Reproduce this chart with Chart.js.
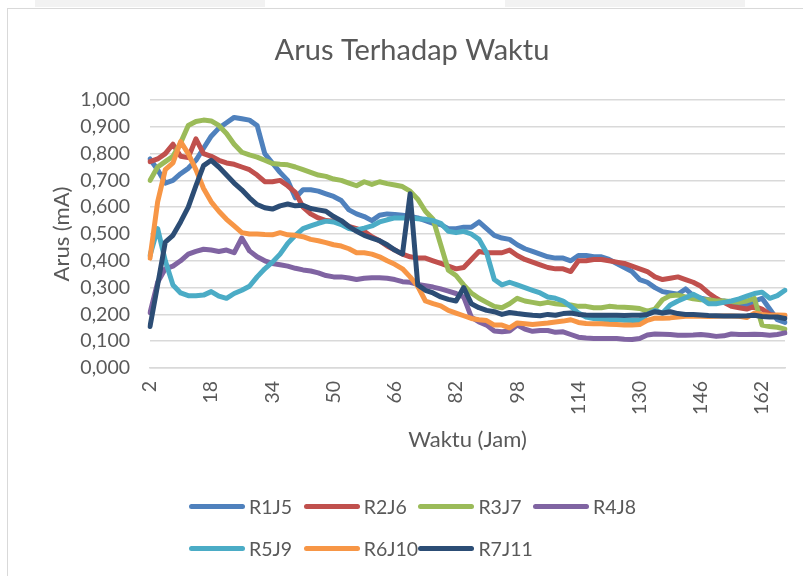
<!DOCTYPE html>
<html>
<head>
<meta charset="utf-8">
<script src="https://cdn.jsdelivr.net/npm/chart.js@4.4.0/dist/chart.umd.min.js"></script>
<style>
    html, body { margin: 0; padding: 0; background: #fff; }
    body { width: 803px; height: 576px; position: relative; overflow: hidden; font-family: Lato, sans-serif; }
    .topcell { position: absolute; top: 0; height: 7px; background: #f2f2f2; }
    #frame { position: absolute; left: 7px; top: 8px; width: 830px; height: 620px; border: 1px solid #d9d9d9; }
    #wrap { position: absolute; left: 0; top: 0; width: 803px; height: 576px; }
    .item { position: absolute; height: 26px; display: flex; align-items: center; color: #595959; font-size: 19.5px; white-space: nowrap; }
    .swatch { width: 56px; height: 5px; border-radius: 3px; margin-right: 4px; }
</style>
</head>
<body>
<div class="topcell" style="left:35px;width:230px"></div>
<div class="topcell" style="left:505px;width:240px"></div>
<div id="frame"></div>
<div id="wrap"><canvas id="chart" width="803" height="576"></canvas></div>
<div id="legend"></div>

<script>
// hours (x categories)
const hours = [2, 4, 6, 8, 10, 12, 14, 16, 18, 20, 22, 24, 26, 28, 30, 32, 34, 36, 38, 40, 42,
    44, 46, 48, 50, 52, 54, 56, 58, 60, 62, 64, 66, 68, 70, 72, 74, 76, 78, 80, 82,
    84, 86, 88, 90, 92, 94, 96, 98, 100, 102, 104, 106, 108, 110, 112, 114, 116, 118, 120, 122,
    124, 126, 128, 130, 132, 134, 136, 138, 140, 142, 144, 146, 148, 150, 152, 154, 156, 158, 160, 162, 164, 166, 168];

const xTickLabels = [2, 18, 34, 50, 66, 82, 98, 114, 130, 146, 162];

const seriesNames = ['R1J5', 'R2J6', 'R3J7', 'R4J8', 'R5J9', 'R6J10', 'R7J11'];
const seriesColors = ['#4F81BD', '#C0504D', '#9BBB59', '#8064A2', '#4BACC6', '#F79646', '#2C4D75'];

const r1j5 = [0.78, 0.74, 0.69, 0.70, 0.725, 0.745, 0.775, 0.82, 0.865, 0.895, 0.915, 0.935, 0.93, 0.925, 0.905, 0.80, 0.765, 0.73, 0.70, 0.635, 0.665,
    0.665, 0.66, 0.65, 0.64, 0.625, 0.59, 0.575, 0.565, 0.55, 0.57, 0.575, 0.573, 0.57, 0.565, 0.56, 0.55, 0.54, 0.535, 0.52, 0.52,
    0.525, 0.525, 0.545, 0.52, 0.495, 0.485, 0.48, 0.46, 0.445, 0.435, 0.425, 0.415, 0.41, 0.41, 0.40, 0.42, 0.42, 0.415, 0.415, 0.405,
    0.39, 0.375, 0.36, 0.33, 0.32, 0.30, 0.285, 0.28, 0.275, 0.295, 0.27, 0.26, 0.255, 0.25, 0.25, 0.245, 0.24, 0.235, 0.25, 0.26, 0.22, 0.18, 0.17];

const r2j6 = [0.77, 0.78, 0.80, 0.835, 0.79, 0.785, 0.855, 0.80, 0.79, 0.775, 0.765, 0.76, 0.75, 0.74, 0.72, 0.695, 0.695, 0.70, 0.68, 0.655, 0.60,
    0.575, 0.56, 0.55, 0.548, 0.545, 0.528, 0.52, 0.51, 0.49, 0.475, 0.455, 0.44, 0.425, 0.415, 0.41, 0.41, 0.40, 0.39, 0.38, 0.37,
    0.375, 0.405, 0.435, 0.43, 0.43, 0.43, 0.44, 0.42, 0.405, 0.395, 0.385, 0.375, 0.37, 0.37, 0.36, 0.40, 0.40, 0.405, 0.405, 0.40,
    0.395, 0.39, 0.38, 0.37, 0.36, 0.34, 0.33, 0.335, 0.34, 0.33, 0.32, 0.305, 0.28, 0.26, 0.245, 0.23, 0.225, 0.22, 0.23, 0.22, 0.20, 0.195, 0.195];

const r3j7 = [0.70, 0.75, 0.77, 0.79, 0.84, 0.905, 0.92, 0.925, 0.922, 0.905, 0.875, 0.835, 0.805, 0.795, 0.787, 0.775, 0.763, 0.76, 0.758, 0.75, 0.74,
    0.73, 0.72, 0.715, 0.705, 0.70, 0.69, 0.68, 0.695, 0.685, 0.695, 0.688, 0.683, 0.677, 0.66, 0.63, 0.585, 0.555, 0.46, 0.365, 0.345,
    0.31, 0.28, 0.26, 0.245, 0.23, 0.225, 0.24, 0.26, 0.25, 0.245, 0.24, 0.245, 0.24, 0.237, 0.235, 0.23, 0.23, 0.225, 0.225, 0.23,
    0.228, 0.227, 0.225, 0.222, 0.212, 0.22, 0.255, 0.27, 0.272, 0.265, 0.258, 0.255, 0.255, 0.25, 0.25, 0.248, 0.245, 0.25, 0.26, 0.16, 0.155, 0.152, 0.145];

const r4j8 = [0.206, 0.32, 0.37, 0.38, 0.40, 0.425, 0.435, 0.443, 0.44, 0.435, 0.44, 0.43, 0.485, 0.437, 0.415, 0.40, 0.39, 0.385, 0.38, 0.372, 0.366,
    0.362, 0.355, 0.345, 0.34, 0.34, 0.336, 0.33, 0.335, 0.337, 0.337, 0.335, 0.33, 0.322, 0.32, 0.312, 0.307, 0.302, 0.295, 0.287, 0.278,
    0.265, 0.19, 0.172, 0.16, 0.138, 0.135, 0.138, 0.16, 0.145, 0.137, 0.14, 0.14, 0.133, 0.135, 0.125, 0.115, 0.112, 0.11, 0.11, 0.11,
    0.11, 0.107, 0.106, 0.11, 0.123, 0.127, 0.126, 0.125, 0.122, 0.122, 0.123, 0.125, 0.122, 0.118, 0.12, 0.127, 0.125, 0.125, 0.126, 0.125, 0.122, 0.125, 0.131];

const r5j9 = [0.42, 0.52, 0.40, 0.31, 0.28, 0.27, 0.27, 0.272, 0.285, 0.268, 0.26, 0.278, 0.29, 0.305, 0.34, 0.37, 0.395, 0.425, 0.465, 0.495, 0.52,
    0.53, 0.54, 0.548, 0.545, 0.535, 0.52, 0.515, 0.522, 0.53, 0.545, 0.553, 0.56, 0.56, 0.56, 0.557, 0.555, 0.55, 0.54, 0.51, 0.505,
    0.51, 0.50, 0.48, 0.43, 0.33, 0.31, 0.32, 0.31, 0.30, 0.29, 0.28, 0.265, 0.26, 0.25, 0.23, 0.205, 0.19, 0.185, 0.182, 0.18,
    0.18, 0.178, 0.177, 0.177, 0.20, 0.215, 0.205, 0.235, 0.25, 0.262, 0.275, 0.26, 0.24, 0.24, 0.245, 0.25, 0.258, 0.268, 0.278, 0.283, 0.26, 0.27, 0.29];

const r6j10 = [0.41, 0.62, 0.74, 0.765, 0.845, 0.80, 0.74, 0.67, 0.62, 0.585, 0.555, 0.53, 0.505, 0.50, 0.50, 0.498, 0.497, 0.505, 0.497, 0.495, 0.49,
    0.48, 0.475, 0.468, 0.46, 0.455, 0.445, 0.43, 0.43, 0.425, 0.415, 0.40, 0.387, 0.37, 0.34, 0.305, 0.25, 0.24, 0.232, 0.215, 0.205,
    0.195, 0.185, 0.18, 0.177, 0.16, 0.16, 0.15, 0.168, 0.165, 0.162, 0.165, 0.168, 0.172, 0.175, 0.18, 0.17, 0.166, 0.165, 0.165, 0.163,
    0.162, 0.16, 0.16, 0.162, 0.178, 0.186, 0.186, 0.187, 0.19, 0.193, 0.194, 0.193, 0.192, 0.193, 0.194, 0.194, 0.193, 0.188, 0.205, 0.20, 0.196, 0.198, 0.197];

const r7j11 = [0.155, 0.31, 0.47, 0.495, 0.545, 0.60, 0.68, 0.755, 0.775, 0.75, 0.72, 0.69, 0.665, 0.635, 0.61, 0.598, 0.593, 0.605, 0.612, 0.605, 0.607,
    0.595, 0.59, 0.585, 0.565, 0.55, 0.528, 0.51, 0.495, 0.485, 0.475, 0.46, 0.44, 0.425, 0.65, 0.31, 0.29, 0.28, 0.265, 0.256, 0.25,
    0.30, 0.24, 0.225, 0.215, 0.21, 0.20, 0.207, 0.203, 0.20, 0.197, 0.195, 0.20, 0.197, 0.203, 0.205, 0.20, 0.198, 0.197, 0.197, 0.197,
    0.197, 0.196, 0.197, 0.197, 0.20, 0.21, 0.205, 0.21, 0.203, 0.20, 0.20, 0.198, 0.196, 0.195, 0.194, 0.194, 0.194, 0.195, 0.197, 0.192, 0.19, 0.19, 0.185];

const seriesValues = [r1j5, r2j6, r3j7, r4j8, r5j9, r6j10, r7j11];

const textColor = '#595959';
const fontFamily = 'Lato, sans-serif';
const gridColor = '#d9d9d9';

// excel draws the last series on top
const datasets = seriesNames.map((name, i) => ({
    label: name,
    data: seriesValues[i],
    borderColor: seriesColors[i],
    backgroundColor: seriesColors[i],
    borderWidth: 5,
    borderJoinStyle: 'round',
    borderCapStyle: 'round',
    pointRadius: 0,
    tension: 0,
    fill: false,
    order: seriesNames.length - i
}));

new Chart(document.getElementById('chart').getContext('2d'), {
    type: 'line',
    data: { labels: hours, datasets },
    options: {
        responsive: false,
        animation: false,
        events: [],
        layout: { padding: { left: 39, right: 18, top: 0, bottom: 123 } },
        plugins: {
            legend: { display: false },
            tooltip: { enabled: false },
            title: {
                display: true,
                text: 'Arus Terhadap Waktu',
                color: textColor,
                font: { family: fontFamily, size: 29, weight: 'normal' },
                padding: { top: 33.6, bottom: 31.6 }
            }
        },
        scales: {
            x: {
                grid: { display: false, drawTicks: false },
                border: { display: true, color: gridColor, width: 1.5 },
                ticks: {
                    autoSkip: false,
                    maxRotation: 90,
                    minRotation: 90,
                    padding: 13,
                    color: textColor,
                    font: { family: fontFamily, size: 19.5 },
                    callback: (v, i) => xTickLabels.includes(hours[i]) ? String(hours[i]) : ''
                },
                title: {
                    display: true,
                    text: 'Waktu (Jam)',
                    color: textColor,
                    font: { family: fontFamily, size: 22 },
                    padding: { top: 0, bottom: 0 }
                },
                afterFit: (scale) => {
                    scale.height = 85;
                    scale.paddingLeft = 0;
                    scale.paddingRight = 0;
                }
            },
            y: {
                min: 0,
                max: 1,
                grid: { color: gridColor, lineWidth: 1.5, drawTicks: false },
                border: { display: false },
                ticks: {
                    stepSize: 0.1,
                    padding: 20,
                    color: textColor,
                    font: { family: fontFamily, size: 19.5 },
                    callback: (v) => v.toFixed(3).replace('.', ',')
                },
                title: {
                    display: true,
                    text: 'Arus (mA)',
                    color: textColor,
                    font: { family: fontFamily, size: 22 },
                    padding: { top: 9.8, bottom: 0 }
                },
                afterFit: (scale) => { scale.width = 111; }
            }
        }
    }
});

// legend laid out like excel: 4 per row, fixed columns
const legendEl = document.getElementById('legend');
seriesNames.forEach((name, i) => {
    const col = i % 4, row = Math.floor(i / 4);
    const item = document.createElement('div');
    item.className = 'item';
    item.style.left = (189 + col * 114.7) + 'px';
    item.style.top = ([506, 548][row] - 13) + 'px';
    const sw = document.createElement('span');
    sw.className = 'swatch';
    sw.style.background = seriesColors[i];
    const tx = document.createElement('span');
    tx.textContent = name;
    item.appendChild(sw);
    item.appendChild(tx);
    legendEl.appendChild(item);
});
</script>
</body>
</html>
